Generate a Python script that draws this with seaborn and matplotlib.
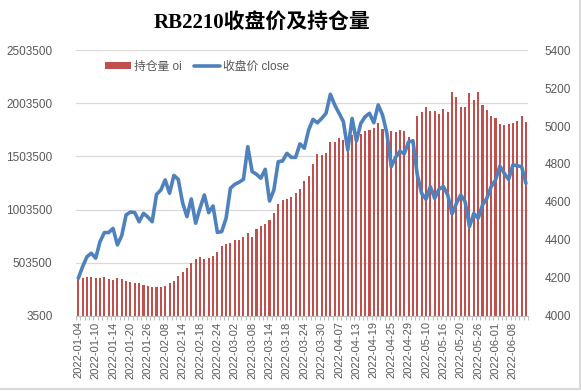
import numpy as np
import pandas as pd
import matplotlib
matplotlib.use('Agg')
import matplotlib.pyplot as plt
from matplotlib.patches import Patch
from matplotlib.lines import Line2D
import seaborn as sns

# trading days (RB2210)
dates = [
    '2022-01-04', '2022-01-05', '2022-01-06', '2022-01-07', '2022-01-10', '2022-01-11', '2022-01-12',
    '2022-01-13', '2022-01-14', '2022-01-17', '2022-01-18', '2022-01-19', '2022-01-20', '2022-01-21',
    '2022-01-24', '2022-01-25', '2022-01-26', '2022-01-27', '2022-01-28',
    '2022-02-07', '2022-02-08', '2022-02-09', '2022-02-10', '2022-02-11', '2022-02-14', '2022-02-15',
    '2022-02-16', '2022-02-17', '2022-02-18', '2022-02-21', '2022-02-22', '2022-02-23', '2022-02-24',
    '2022-02-25', '2022-02-28',
    '2022-03-01', '2022-03-02', '2022-03-03', '2022-03-04', '2022-03-07', '2022-03-08', '2022-03-09',
    '2022-03-10', '2022-03-11', '2022-03-14', '2022-03-15', '2022-03-16', '2022-03-17', '2022-03-18',
    '2022-03-21', '2022-03-22', '2022-03-23', '2022-03-24', '2022-03-25', '2022-03-28', '2022-03-29',
    '2022-03-30', '2022-03-31',
    '2022-04-01', '2022-04-06', '2022-04-07', '2022-04-08', '2022-04-11', '2022-04-12', '2022-04-13',
    '2022-04-14', '2022-04-15', '2022-04-18', '2022-04-19', '2022-04-20', '2022-04-21', '2022-04-22',
    '2022-04-25', '2022-04-26', '2022-04-27', '2022-04-28', '2022-04-29',
    '2022-05-05', '2022-05-06', '2022-05-09', '2022-05-10', '2022-05-11', '2022-05-12', '2022-05-13',
    '2022-05-16', '2022-05-17', '2022-05-18', '2022-05-19', '2022-05-20', '2022-05-23', '2022-05-24',
    '2022-05-25', '2022-05-26', '2022-05-27', '2022-05-30', '2022-05-31',
    '2022-06-01', '2022-06-02', '2022-06-06', '2022-06-07', '2022-06-08', '2022-06-09', '2022-06-10',
    '2022-06-13',
]

# open interest (left axis)
oi = [
    347000, 356000, 365000, 365000, 356000, 356000, 365000, 347000, 337000, 356000,
    347000, 328000, 319000, 309000, 309000, 291000, 281000, 272000, 272000, 272000,
    281000, 309000, 328000, 375000, 412000, 452000, 499000, 536000, 555000, 543000,
    546000, 565000, 602000, 658000, 677000, 686000, 714000, 721000, 742000, 780000,
    742000, 817000, 845000, 864000, 901000, 976000, 1060000, 1097000, 1107000, 1126000,
    1163000, 1200000, 1275000, 1322000, 1434000, 1528000, 1518000, 1537000, 1640000, 1640000,
    1677000, 1659000, 1687000, 1705000, 1696000, 1715000, 1743000, 1752000, 1771000, 1818000,
    1761000, 1743000, 1743000, 1733000, 1752000, 1743000, 1687000, 1668000, 1883000, 1920000,
    1967000, 1930000, 1930000, 1902000, 1948000, 1920000, 2107000, 2061000, 1967000, 1967000,
    2098000, 2033000, 2107000, 1986000, 1939000, 1883000, 1864000, 1808000, 1799000, 1808000,
    1818000, 1836000, 1883000, 1827000,
]

# close price (right axis)
close = [
    4198, 4260, 4312, 4330, 4304, 4391, 4439, 4439, 4461, 4374,
    4423, 4532, 4547, 4544, 4496, 4540, 4521, 4496, 4640, 4663,
    4716, 4646, 4740, 4719, 4596, 4523, 4616, 4488, 4567, 4637,
    4544, 4579, 4440, 4444, 4514, 4672, 4693, 4704, 4719, 4891,
    4760, 4746, 4725, 4772, 4605, 4663, 4812, 4816, 4856, 4835,
    4835, 4906, 4883, 4979, 5035, 5017, 5040, 5067, 5167, 5111,
    5067, 5023, 4874, 5040, 4921, 5014, 5049, 5067, 5017, 5111,
    5058, 4962, 4786, 4835, 4868, 4853, 4917, 4921, 4742, 4646,
    4614, 4681, 4619, 4667, 4681, 4637, 4537, 4593, 4637, 4602,
    4470, 4540, 4514, 4584, 4619, 4681, 4716, 4789, 4751, 4719,
    4795, 4791, 4786, 4698,
]

left_ticks = [3500, 503500, 1003500, 1503500, 2003500, 2503500]
right_ticks = [4000, 4200, 4400, 4600, 4800, 5000, 5200, 5400]

bar_color = '#C0504D'
line_color = '#4F81BD'
txt_color = '#595959'
grid_color = '#D9D9D9'

sns.set_theme(style='white')
plt.rcParams['font.family'] = ['Liberation Sans', 'Noto Sans CJK SC', 'DejaVu Sans']

n = len(dates)
df = pd.DataFrame({'pos': np.arange(n), 'oi': oi, 'close': close})

fig = plt.figure(figsize=(5.81, 3.91), dpi=100)
ax = fig.add_axes([0.131, 0.192, 0.778, 0.680])

sns.barplot(data=df, x='pos', y='oi', native_scale=True, color=bar_color,
            saturation=1, width=0.48, errorbar=None, linewidth=0, ax=ax)
ax.set_ylim(3500, 2503500)
ax.set_yticks(left_ticks)
ax.set_yticklabels([str(v) for v in left_ticks])
ax.grid(axis='y', color=grid_color, linewidth=0.9)
ax.set_axisbelow(True)

ax2 = ax.twinx()
sns.lineplot(data=df, x='pos', y='close', color=line_color, linewidth=2.6, ax=ax2)
ax2.set_ylim(4000, 5400)
ax2.set_yticks(right_ticks)
ax2.grid(False)

ax.set_xlim(-0.5, n - 0.5)
ax.set_xticks(np.arange(0, n, 4))
ax.set_xticklabels(dates[::4], rotation=90, fontsize=8, color=txt_color)
ax.set_xticks(np.arange(-0.5, n, 1), minor=True)
ax.tick_params(axis='x', which='major', length=0, pad=4)
ax.tick_params(axis='x', which='minor', length=3, color='#BFBFBF', width=0.8, bottom=True)
ax.tick_params(axis='y', length=0, labelsize=8.5, labelcolor=txt_color, pad=17)
ax2.tick_params(axis='y', length=0, labelsize=8.5, labelcolor=txt_color, pad=12)

for a in (ax, ax2):
    a.set_xlabel('')
    a.set_ylabel('')
    for s in ('top', 'left', 'right'):
        a.spines[s].set_visible(False)
    a.spines['bottom'].set_visible(False)
ax.spines['bottom'].set_visible(True)
ax.spines['bottom'].set_color('#BFBFBF')
ax.spines['bottom'].set_linewidth(0.8)

handles = [Patch(facecolor=bar_color, edgecolor='none'),
           Line2D([0], [0], color=line_color, linewidth=2.6)]
fig.legend(handles, ['持仓量 oi', '收盘价 close'], loc='center',
           bbox_to_anchor=(197 / 581, 1 - 67 / 391), ncol=2, frameon=False,
           fontsize=8.5, handlelength=2.2, handleheight=0.5, columnspacing=1.0,
           handletextpad=0.3, labelcolor=txt_color)

fig.text(262 / 581, 1 - 24 / 391, 'RB2210收盘价及持仓量', ha='center', va='center',
         fontsize=15, fontweight='bold', color='black',
         family=['Liberation Serif', 'Noto Sans CJK SC'])

# chart border on right and bottom
fig.add_artist(Line2D([0, 0.998], [0.004, 0.004], transform=fig.transFigure, color=grid_color, linewidth=1.5))
fig.add_artist(Line2D([0.998, 0.998], [0.004, 1], transform=fig.transFigure, color=grid_color, linewidth=1.5))

fig.savefig('out.png', dpi=100)
